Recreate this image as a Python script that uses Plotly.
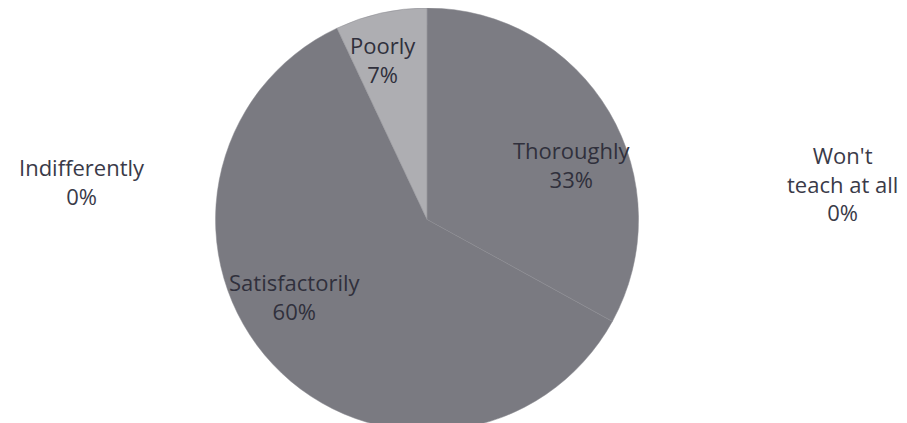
import plotly.graph_objects as go

# survey answers, clockwise from 12 o'clock
labels = ["Thoroughly", "Satisfactorily", "Poorly"]
values = [33, 60, 7]
colors = ["#7c7c83", "#7a7a81", "#aeaeb2"]

# answers nobody picked (shown as outside labels)
zero_labels = ["Indifferently", "Won't<br>teach at all"]
zero_values = [0, 0]

FONT = dict(family="Open Sans, Lato, sans-serif", size=22, color="#30303c")

fig = go.Figure(data=go.Pie(
    labels=labels,
    values=values,
    sort=False,
    direction="clockwise",
    rotation=0,
    marker=dict(colors=colors, line=dict(color="#8a8a90", width=0.5)),
    textinfo="none",
    domain=dict(x=[0.227, 0.697], y=[0.0, 1.0]),
    showlegend=False,
    hoverinfo="label+percent",
))

# slice labels placed like the original (label over percent)
total = sum(values)
slice_pos = [(0.622, 0.631), (0.316, 0.319), (0.413, 0.879)]
for lab, val, (xp, yp) in zip(labels, values, slice_pos):
    fig.add_annotation(
        text=f"{lab}<br>{round(100 * val / total)}%",
        x=xp, y=yp, xref="paper", yref="paper",
        xanchor="center", yanchor="middle",
        showarrow=False, font=FONT, align="center",
    )

for txt, val, xp, yp in zip(zero_labels, zero_values, [0.082, 0.92], [0.591, 0.584]):
    fig.add_annotation(
        text=f"{txt}<br>{val}%",
        x=xp, y=yp, xref="paper", yref="paper",
        xanchor="center", yanchor="middle",
        showarrow=False, font=dict(FONT, color="#3a3a48"),
        align="center",
    )

fig.update_layout(
    width=907,
    height=423,
    margin=dict(l=0, r=0, t=0, b=0),
    paper_bgcolor="white",
    plot_bgcolor="white",
)

fig.write_html("out.html")
